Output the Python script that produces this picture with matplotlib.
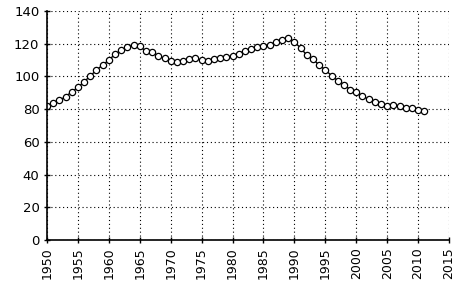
import matplotlib
matplotlib.use("Agg")
import matplotlib.pyplot as plt

years = list(range(1950, 2012))
values = [82, 84, 85.5, 87.6, 90.7, 93.3, 96.8, 100.3, 104, 107,
          110, 113.7, 116, 118, 119.4, 118.5, 115.4, 115, 112.5, 111,
          109.5, 109, 109.5, 110.5, 111, 110, 109.5, 110.5, 111.5, 112,
          112.5, 114, 115.5, 117, 118, 118.5, 119.5, 121, 122.5, 123.5,
          121, 117.5, 113, 110.5, 107, 104, 100.5, 97.5, 95, 92,
          90.5, 88, 86, 84.5, 83, 82, 82.5, 82, 81, 80.5,
          79.5, 79]
xticks = list(range(1950, 2016, 5))
yticks = list(range(0, 141, 20))

fig = plt.figure(figsize=(4.61, 2.84), dpi=100)
ax = fig.add_axes([0.102, 0.155, 0.872, 0.806])
ax.plot(years, values, color="black", lw=1.0, marker="o", ms=4.5,
        mfc="white", mec="black", mew=0.9)
ax.set_xlim(1950, 2015)
ax.set_ylim(0, 140)
ax.set_xticks(xticks)
ax.set_yticks(yticks)
ax.set_xticklabels([str(x) for x in xticks], rotation=90, fontsize=9)
ax.set_yticklabels([str(y) for y in yticks], fontsize=9.5)
ax.grid(True, color="black", linestyle=(0, (1, 2.5)), lw=0.8)
for s in ["top", "right"]:
    ax.spines[s].set_visible(False)
for s in ["left", "bottom"]:
    ax.spines[s].set_linewidth(1.2)
ax.tick_params(axis="both", direction="inout", length=4, width=1, colors="black")
fig.savefig("out.png", dpi=100)
